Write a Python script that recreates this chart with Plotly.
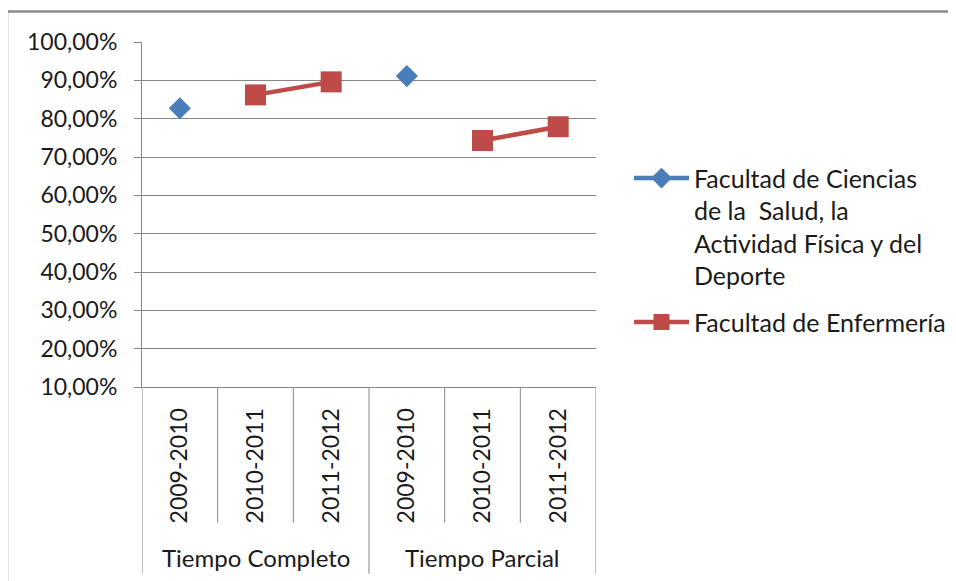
import plotly.graph_objects as go

# Data
groups = ["Tiempo Completo", "Tiempo Parcial"]
years = ["2009-2010", "2010-2011", "2011-2012", "2009-2010", "2010-2011", "2011-2012"]
serie_salud_name = "Facultad de Ciencias<br>de la  Salud, la<br>Actividad Física y del<br>Deporte"
serie_salud = [0.827, None, None, 0.911, None, None]
serie_enf_name = "Facultad de Enfermería"
serie_enf = [None, 0.862, 0.896, None, 0.743, 0.779]
y_ticks = [0.1, 0.2, 0.3, 0.4, 0.5, 0.6, 0.7, 0.8, 0.9, 1.0]

xpos = list(range(len(years)))

FONT = "Lato"
GRID = "#878787"
OFF = 8  # page body margin
W, H = 948, 573
L, T = 142 - OFF, 41.5 - OFF
pw, ph = 454, 345.5
R, B = W - L - pw, H - T - ph

def px_x(p):
    return (p - OFF - L) / pw

def px_y(p):
    return (T + ph - (p - OFF)) / ph

fig = go.Figure()
fig.add_trace(go.Scatter(
    x=xpos, y=serie_salud, name=serie_salud_name, mode="lines+markers",
    line=dict(color="#4a7ebb", width=4.5),
    marker=dict(symbol="diamond", size=17, color="#4a7ebb"),
    legendgroup="a", connectgaps=False,
))
fig.add_trace(go.Scatter(
    x=xpos, y=serie_enf, name=serie_enf_name, mode="lines+markers",
    line=dict(color="#be4b48", width=4.5),
    marker=dict(symbol="square", size=21, color="#be4b48"),
    legendgroup="b", connectgaps=False,
))

shapes = []
# inner dividers
for xv in [0.5, 1.5, 3.5, 4.5]:
    shapes.append(dict(type="line", xref="x", yref="paper", x0=xv, x1=xv,
                       y0=0, y1=px_y(523), line=dict(color=GRID, width=1)))
# group dividers
for xv in [-0.5, 2.5, 5.5]:
    shapes.append(dict(type="line", xref="x", yref="paper", x0=xv, x1=xv,
                       y0=0, y1=px_y(574), line=dict(color=GRID, width=1)))
# chart border
shapes.append(dict(type="rect", xref="paper", yref="paper",
                   x0=px_x(7), x1=px_x(990), y0=px_y(620), y1=px_y(11),
                   line=dict(color="#8c8c8c", width=2.5)))

annotations = []
for i, g in enumerate(groups):
    annotations.append(dict(text=g, xref="x", yref="paper", x=3 * i + 1, y=px_y(558),
                            showarrow=False, xanchor="center", yanchor="middle",
                            font=dict(family=FONT, size=24, color="#1a1a1a")))

fig.update_layout(
    width=W, height=H,
    margin=dict(l=L, r=R, t=T, b=B, pad=0, autoexpand=False),
    paper_bgcolor="white", plot_bgcolor="white",
    separators=",.",
    font=dict(family=FONT, size=23, color="#1a1a1a"),
    shapes=shapes, annotations=annotations,
    showlegend=True,
    legend=dict(x=px_x(629), y=px_y(155), xanchor="left", yanchor="top",
                valign="top", tracegroupgap=11, itemwidth=55, bgcolor="rgba(0,0,0,0)",
                font=dict(family=FONT, size=25, color="#1a1a1a")),
    xaxis=dict(range=[-0.5, 5.5], tickvals=xpos, ticktext=years, tickangle=-90,
               showgrid=False, zeroline=False, showline=True, linecolor=GRID, linewidth=1,
               ticks="", ticklabelstandoff=11,
               tickfont=dict(family=FONT, size=23, color="#1a1a1a")),
    yaxis=dict(range=[0.1, 1.0], tickvals=y_ticks, tickformat=".2%",
               showgrid=True, gridcolor=GRID, gridwidth=1, zeroline=False,
               showline=True, linecolor=GRID, linewidth=1,
               ticks="outside", ticklen=7, tickcolor=GRID, ticklabelstandoff=12,
               tickfont=dict(family=FONT, size=23, color="#1a1a1a")),
)

fig.write_html("out.html")
